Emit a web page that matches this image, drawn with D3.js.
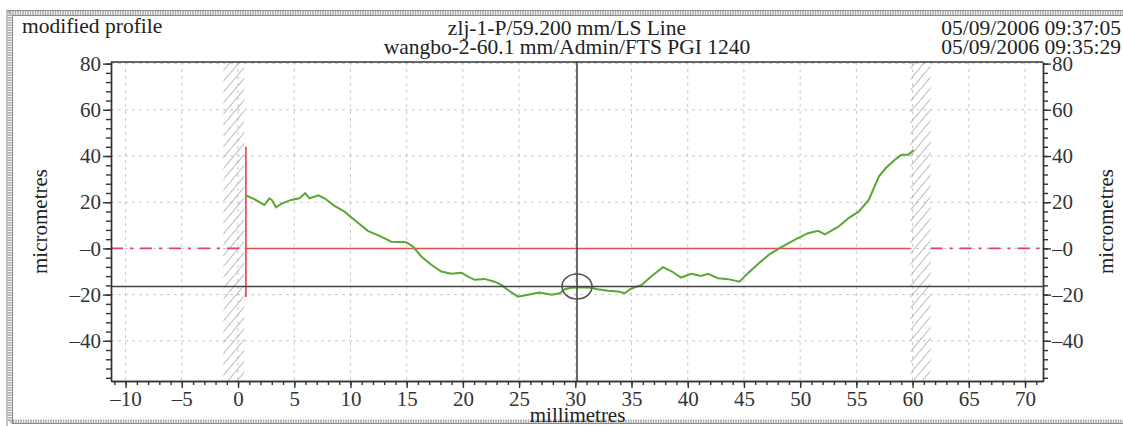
<!DOCTYPE html>
<html lang="en">
<head>
<meta charset="UTF-8">
<title>modified profile</title>
<script src="https://d3js.org/d3.v7.min.js"></script>
<style>
    body { margin: 0; background: #fff; }
    text { font-family: "Liberation Serif", "DejaVu Serif", serif; fill: #222; }
    .tick text { font-size: 21px; fill: #333; font-family: "Liberation Serif", serif; }
    .axis path, .axis line { stroke: #333; stroke-width: 1.4px; }
    .grid line { stroke: #c8c8c8; stroke-dasharray: 3,4; }
    .profile { fill: none; stroke: #5aa735; stroke-width: 2px; }
</style>
</head>
<body>
<div class="graph"></div>
<script>
    // profile trace (mm, micrometres)
    var profileX = [0.71, 1.45, 2.34, 2.79, 3.0, 3.38, 3.83, 4.72, 5.46, 5.97, 6.35, 7.15, 7.69, 8.58, 9.47,
        10.36, 11.55, 12.73, 13.62, 14.96, 15.56, 16.3, 17.19, 18.08, 18.97, 19.86, 20.45, 21.04, 21.93,
        22.82, 23.42, 24.0, 24.9, 25.8, 26.8, 27.9, 28.6, 29.06, 29.65, 30.5, 31.4, 32.0, 32.9, 33.8,
        34.4, 34.85, 35.3, 35.9, 36.8, 37.8, 38.6, 39.4, 40.3, 41.2, 41.8, 42.7, 43.6, 44.6, 45.4,
        46.3, 47.2, 48.1, 49.5, 50.7, 51.6, 52.2, 53.4, 54.3, 55.2, 56.1, 57.0, 57.6, 58.4, 59.0,
        59.6, 60.1];
    var profileY = [22.9, 21.3, 18.8, 21.7, 21, 17.8, 19.3, 21, 21.7, 23.9, 21.7, 23, 21.7, 18.4, 15.9,
        12.3, 7.6, 5.1, 2.9, 2.7, 0.8, -3.5, -7.1, -10, -11, -10.5, -12.2, -13.6, -13.2,
        -14.4, -15.8, -18, -20.9, -20.1, -19.1, -20.1, -19.4, -17.7, -17, -16.8, -17, -17.7, -18.3, -18.7,
        -19.4, -17.7, -16.8, -15.8, -11.9, -8.1, -10, -12.6, -11, -11.9, -11, -12.9, -13.3, -14.4, -10.5,
        -6.5, -2.8, -0.1, 3.7, 6.6, 7.6, 6.1, 9.4, 13.1, 15.9, 21, 31.1, 34.7, 38.3, 40.5,
        40.5, 42.6];

    var xTicks = [-10, -5, 0, 5, 10, 15, 20, 25, 30, 35, 40, 45, 50, 55, 60, 65, 70];
    var xTickLabels = ["\u201310", "\u20135", "0", "5", "10", "15", "20", "25", "30", "35", "40", "45", "50", "55", "60", "65", "70"];
    var yTicks = [-40, -20, 0, 20, 40, 60, 80];
    var yTickLabels = ["\u201340", "\u201320", "\u20130", "20", "40", "60", "80"];

    // evaluation limits (hatched zones) and reference lines
    var hatchZones = [[-1.3, 0.55], [59.8, 61.6]];
    var limitX = 0.7, limitTop = 44, limitBottom = -21;
    var lineStart = 0.7, lineEnd = 59.8;
    var cursorX = 30.15, cursorY = -16.5;

    var W = 1123, H = 426;
    var margin = { top: 62, right: 80, bottom: 45, left: 111 },
        width = W - margin.left - margin.right,
        height = H - margin.top - margin.bottom;

    var x = d3.scaleLinear().domain([-11.3, 71.6]).range([0, width]);
    var y = d3.scaleLinear().domain([-57.4, 80.7]).range([height, 0]);

    var root = d3.select(".graph").append("svg")
        .attr("width", W).attr("height", H);

    // outer frame
    root.append("rect").attr("x", 7).attr("y", 10.5).attr("width", W + 10).attr("height", H)
        .attr("fill", "none").attr("stroke", "#888").attr("stroke-width", 1);
    root.append("rect").attr("x", 9.75).attr("y", 13).attr("width", W + 10).attr("height", 408.5)
        .attr("fill", "none").attr("stroke", "#aaa").attr("stroke-width", 4).attr("stroke-dasharray", "1.5,1");
    root.append("rect").attr("x", 12.5).attr("y", 15.5).attr("width", W + 10).attr("height", 408)
        .attr("fill", "none").attr("stroke", "#888").attr("stroke-width", 1);

    // header texts
    root.append("text").attr("x", 22).attr("y", 33).style("font-size", "21.5px").text("modified profile");
    root.append("text").attr("x", 567).attr("y", 35).attr("text-anchor", "middle").style("font-size", "21.5px")
        .text("zlj-1-P/59.200 mm/LS Line");
    root.append("text").attr("x", 567).attr("y", 54).attr("text-anchor", "middle").style("font-size", "21.5px")
        .text("wangbo-2-60.1 mm/Admin/FTS PGI 1240");
    root.append("text").attr("x", 1121).attr("y", 35).attr("text-anchor", "end").style("font-size", "21.5px")
        .text("05/09/2006 09:37:05");
    root.append("text").attr("x", 1121).attr("y", 54).attr("text-anchor", "end").style("font-size", "21.5px")
        .text("05/09/2006 09:35:29");

    var svg = root.append("g").attr("transform", "translate(" + margin.left + "," + margin.top + ")");

    var defs = svg.append("defs");
    var pat = defs.append("pattern").attr("id", "hatch").attr("patternUnits", "userSpaceOnUse")
        .attr("width", 7).attr("height", 7).attr("patternTransform", "rotate(40)");
    pat.append("line").attr("x1", 0).attr("y1", 0).attr("x2", 0).attr("y2", 7)
        .attr("stroke", "#999").attr("stroke-width", 1.3);
    defs.append("clipPath").attr("id", "clip").append("rect").attr("width", width).attr("height", height);

    // grid
    svg.append("g").attr("class", "grid").selectAll("line").data(xTicks).join("line")
        .attr("x1", d => x(d)).attr("x2", d => x(d)).attr("y1", 0).attr("y2", height);
    svg.append("g").attr("class", "grid").selectAll("line").data(yTicks).join("line")
        .attr("x1", 0).attr("x2", width).attr("y1", d => y(d)).attr("y2", d => y(d));

    // hatched zones
    svg.append("g").selectAll("rect").data(hatchZones).join("rect")
        .attr("x", d => x(d[0])).attr("width", d => x(d[1]) - x(d[0]))
        .attr("y", 0).attr("height", height).attr("fill", "url(#hatch)");

    // zero reference lines
    svg.append("line").attr("x1", 0).attr("x2", x(lineStart)).attr("y1", y(0)).attr("y2", y(0))
        .attr("stroke", "#e0406a").attr("stroke-width", 1.6).attr("stroke-dasharray", "12,7,3,7");
    svg.append("line").attr("x1", x(hatchZones[1][1])).attr("x2", width).attr("y1", y(0)).attr("y2", y(0))
        .attr("stroke", "#e0406a").attr("stroke-width", 1.6).attr("stroke-dasharray", "12,7,3,7");
    svg.append("line").attr("x1", x(lineStart)).attr("x2", x(lineEnd)).attr("y1", y(0)).attr("y2", y(0))
        .attr("stroke", "#ec4b50").attr("stroke-width", 1.5);
    svg.append("line").attr("x1", x(limitX)).attr("x2", x(limitX)).attr("y1", y(limitTop)).attr("y2", y(limitBottom))
        .attr("stroke", "#e5404e").attr("stroke-width", 1.6);

    // profile
    var line = d3.line().x(d => x(d[0])).y(d => y(d[1]));
    svg.append("g").attr("clip-path", "url(#clip)").append("path")
        .datum(d3.zip(profileX, profileY)).attr("class", "profile").attr("d", line);

    // cursor lines
    svg.append("line").attr("x1", 0).attr("x2", width).attr("y1", y(cursorY)).attr("y2", y(cursorY))
        .attr("stroke", "#444").attr("stroke-width", 1.6);
    svg.append("line").attr("x1", x(cursorX)).attr("x2", x(cursorX)).attr("y1", 0).attr("y2", height)
        .attr("stroke", "#444").attr("stroke-width", 1.6);
    svg.append("ellipse").attr("cx", x(cursorX)).attr("cy", y(cursorY)).attr("rx", 15).attr("ry", 12.5)
        .attr("fill", "none").attr("stroke", "#555").attr("stroke-width", 1.6);

    // axes
    var xMinor = d3.range(-11, 72, 1), yMinor = d3.range(-56, 81, 4);
    svg.append("g").attr("class", "axis").attr("transform", "translate(0," + height + ")")
        .call(d3.axisBottom(x).tickValues(xMinor).tickSize(4).tickSizeOuter(0).tickFormat(""));
    svg.append("g").attr("class", "axis").attr("transform", "translate(0," + height + ")")
        .call(d3.axisBottom(x).tickValues(xTicks).tickSize(7).tickSizeOuter(0).tickPadding(3)
            .tickFormat((d, i) => xTickLabels[i]));
    svg.append("g").attr("class", "axis")
        .call(d3.axisLeft(y).tickValues(yMinor).tickSize(5).tickSizeOuter(0).tickFormat(""));
    svg.append("g").attr("class", "axis")
        .call(d3.axisLeft(y).tickValues(yTicks).tickSize(8).tickSizeOuter(0).tickPadding(2)
            .tickFormat((d, i) => yTickLabels[i]));
    svg.append("g").attr("class", "axis").attr("transform", "translate(" + width + ",0)")
        .call(d3.axisRight(y).tickValues(yMinor).tickSize(5).tickSizeOuter(0).tickFormat(""));
    svg.append("g").attr("class", "axis").attr("transform", "translate(" + width + ",0)")
        .call(d3.axisRight(y).tickValues(yTicks).tickSize(8).tickSizeOuter(0).tickPadding(1)
            .tickFormat((d, i) => yTickLabels[i]));
    svg.append("line").attr("x1", 0).attr("x2", width).attr("y1", 0).attr("y2", 0)
        .attr("stroke", "#333").attr("stroke-width", 1.4);

    // axis titles
    svg.append("text").attr("transform", "rotate(-90)").attr("x", -height / 2).attr("y", -64)
        .attr("text-anchor", "middle").style("font-size", "21px").text("micrometres");
    svg.append("text").attr("transform", "rotate(-90)").attr("x", -height / 2).attr("y", width + 70)
        .attr("text-anchor", "middle").style("font-size", "21px").text("micrometres");
    svg.append("text").attr("x", x(30.2)).attr("y", height + 41)
        .attr("text-anchor", "middle").style("font-size", "21px").text("millimetres");
</script>
</body>
</html>
